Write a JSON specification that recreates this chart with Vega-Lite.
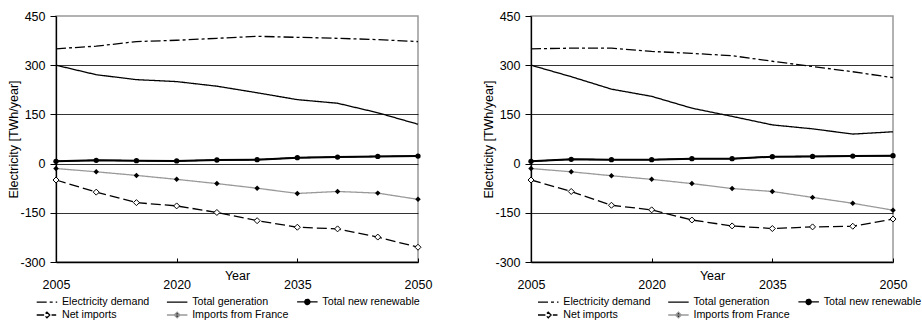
{
  "$schema": "https://vega.github.io/schema/vega-lite/v6.json",
  "padding": {"left": 7, "top": 9, "right": 0, "bottom": 0},
  "spacing": 113,
  "bounds": "flush",
  "datasets": {
    "left": [
      {"series": "Electricity demand", "year": 2005, "value": 350},
      {"series": "Electricity demand", "year": 2010, "value": 358},
      {"series": "Electricity demand", "year": 2015, "value": 372},
      {"series": "Electricity demand", "year": 2020, "value": 376},
      {"series": "Electricity demand", "year": 2025, "value": 382},
      {"series": "Electricity demand", "year": 2030, "value": 388},
      {"series": "Electricity demand", "year": 2035, "value": 385},
      {"series": "Electricity demand", "year": 2040, "value": 382},
      {"series": "Electricity demand", "year": 2045, "value": 378},
      {"series": "Electricity demand", "year": 2050, "value": 372},
      {"series": "Total generation", "year": 2005, "value": 300},
      {"series": "Total generation", "year": 2010, "value": 271},
      {"series": "Total generation", "year": 2015, "value": 256},
      {"series": "Total generation", "year": 2020, "value": 250},
      {"series": "Total generation", "year": 2025, "value": 236},
      {"series": "Total generation", "year": 2030, "value": 216},
      {"series": "Total generation", "year": 2035, "value": 195},
      {"series": "Total generation", "year": 2040, "value": 184},
      {"series": "Total generation", "year": 2045, "value": 155},
      {"series": "Total generation", "year": 2050, "value": 120},
      {"series": "Total new renewable", "year": 2005, "value": 7},
      {"series": "Total new renewable", "year": 2010, "value": 10},
      {"series": "Total new renewable", "year": 2015, "value": 9},
      {"series": "Total new renewable", "year": 2020, "value": 8},
      {"series": "Total new renewable", "year": 2025, "value": 11},
      {"series": "Total new renewable", "year": 2030, "value": 12},
      {"series": "Total new renewable", "year": 2035, "value": 18},
      {"series": "Total new renewable", "year": 2040, "value": 20},
      {"series": "Total new renewable", "year": 2045, "value": 22},
      {"series": "Total new renewable", "year": 2050, "value": 23},
      {"series": "Net imports", "year": 2005, "value": -50},
      {"series": "Net imports", "year": 2010, "value": -87},
      {"series": "Net imports", "year": 2015, "value": -119},
      {"series": "Net imports", "year": 2020, "value": -129},
      {"series": "Net imports", "year": 2025, "value": -149},
      {"series": "Net imports", "year": 2030, "value": -174},
      {"series": "Net imports", "year": 2035, "value": -194},
      {"series": "Net imports", "year": 2040, "value": -199},
      {"series": "Net imports", "year": 2045, "value": -224},
      {"series": "Net imports", "year": 2050, "value": -255},
      {"series": "Imports from France", "year": 2005, "value": -15},
      {"series": "Imports from France", "year": 2010, "value": -25},
      {"series": "Imports from France", "year": 2015, "value": -36},
      {"series": "Imports from France", "year": 2020, "value": -48},
      {"series": "Imports from France", "year": 2025, "value": -61},
      {"series": "Imports from France", "year": 2030, "value": -75},
      {"series": "Imports from France", "year": 2035, "value": -91},
      {"series": "Imports from France", "year": 2040, "value": -85},
      {"series": "Imports from France", "year": 2045, "value": -90},
      {"series": "Imports from France", "year": 2050, "value": -109}
    ],
    "right": [
      {"series": "Electricity demand", "year": 2005, "value": 350},
      {"series": "Electricity demand", "year": 2010, "value": 352},
      {"series": "Electricity demand", "year": 2015, "value": 352},
      {"series": "Electricity demand", "year": 2020, "value": 342},
      {"series": "Electricity demand", "year": 2025, "value": 336},
      {"series": "Electricity demand", "year": 2030, "value": 329},
      {"series": "Electricity demand", "year": 2035, "value": 312},
      {"series": "Electricity demand", "year": 2040, "value": 296},
      {"series": "Electricity demand", "year": 2045, "value": 280},
      {"series": "Electricity demand", "year": 2050, "value": 262},
      {"series": "Total generation", "year": 2005, "value": 300},
      {"series": "Total generation", "year": 2010, "value": 265},
      {"series": "Total generation", "year": 2015, "value": 227},
      {"series": "Total generation", "year": 2020, "value": 205},
      {"series": "Total generation", "year": 2025, "value": 169},
      {"series": "Total generation", "year": 2030, "value": 144},
      {"series": "Total generation", "year": 2035, "value": 118},
      {"series": "Total generation", "year": 2040, "value": 106},
      {"series": "Total generation", "year": 2045, "value": 90},
      {"series": "Total generation", "year": 2050, "value": 97},
      {"series": "Total new renewable", "year": 2005, "value": 7},
      {"series": "Total new renewable", "year": 2010, "value": 13},
      {"series": "Total new renewable", "year": 2015, "value": 12},
      {"series": "Total new renewable", "year": 2020, "value": 12},
      {"series": "Total new renewable", "year": 2025, "value": 15},
      {"series": "Total new renewable", "year": 2030, "value": 15},
      {"series": "Total new renewable", "year": 2035, "value": 21},
      {"series": "Total new renewable", "year": 2040, "value": 22},
      {"series": "Total new renewable", "year": 2045, "value": 23},
      {"series": "Total new renewable", "year": 2050, "value": 24},
      {"series": "Net imports", "year": 2005, "value": -50},
      {"series": "Net imports", "year": 2010, "value": -85},
      {"series": "Net imports", "year": 2015, "value": -127},
      {"series": "Net imports", "year": 2020, "value": -141},
      {"series": "Net imports", "year": 2025, "value": -172},
      {"series": "Net imports", "year": 2030, "value": -190},
      {"series": "Net imports", "year": 2035, "value": -198},
      {"series": "Net imports", "year": 2040, "value": -193},
      {"series": "Net imports", "year": 2045, "value": -191},
      {"series": "Net imports", "year": 2050, "value": -169},
      {"series": "Imports from France", "year": 2005, "value": -15},
      {"series": "Imports from France", "year": 2010, "value": -25},
      {"series": "Imports from France", "year": 2015, "value": -37},
      {"series": "Imports from France", "year": 2020, "value": -48},
      {"series": "Imports from France", "year": 2025, "value": -61},
      {"series": "Imports from France", "year": 2030, "value": -76},
      {"series": "Imports from France", "year": 2035, "value": -85},
      {"series": "Imports from France", "year": 2040, "value": -103},
      {"series": "Imports from France", "year": 2045, "value": -121},
      {"series": "Imports from France", "year": 2050, "value": -142}
    ]
  },
  "hconcat": [
    {
      "width": 362,
      "height": 246,
      "data": {"name": "left"},
      "encoding": {
        "x": {"field": "year", "type": "quantitative", "scale": {"domain": [2005, 2050], "nice": false, "zero": false},
          "axis": {"values": [2005, 2020, 2035, 2050], "labelExpr": "'' + datum.value", "title": "Year", "labelFlush": false, "grid": false, "tickSize": -4, "labelPadding": 20.6, "titleY": 17, "titleBaseline": "alphabetic"}},
        "y": {"field": "value", "type": "quantitative", "scale": {"domain": [-300, 450], "nice": false, "zero": false},
          "axis": {"values": [-300, -150, 0, 150, 300, 450], "labelExpr": "'' + datum.value", "title": "Electricity [TWh/year]", "tickSize": 6, "labelPadding": 5, "grid": true, "gridOpacity": {"condition": {"test": "datum.value == 450 || datum.value == -300", "value": 0}, "value": 1}, "titlePadding": -1}}
      },
      "layer": [
        {
          "mark": {"type": "line", "strokeWidth": 1.3},
          "encoding": {
            "stroke": {"field": "series", "type": "nominal", "legend": {"title": null, "orient": "none", "direction": "horizontal", "legendX": -19.3, "legendY": 279.5}, "scale": {"domain": ["Electricity demand", "Total generation", "Total new renewable", "Net imports", "Imports from France"], "range": ["#000000", "#000000", "#000000", "#000000", "#999999"]}},
            "strokeDash": {"field": "series", "type": "nominal", "legend": {"title": null, "orient": "none", "direction": "horizontal", "legendX": -19.3, "legendY": 279.5}, "scale": {"domain": ["Electricity demand", "Total generation", "Total new renewable", "Net imports", "Imports from France"], "range": [[10, 3, 3, 3], [1, 0], [1, 0], [10, 4], [1, 0]]}}
          }
        },
        {
          "transform": [{"filter": {"field": "series", "equal": "Total new renewable"}}],
          "mark": {"type": "line", "strokeWidth": 2, "color": "#000000"},
          "encoding": {}
        },
        {
          "transform": [{"filter": {"field": "series", "equal": "Total new renewable"}}],
          "mark": {"type": "point", "shape": "circle", "filled": true, "color": "#000000", "size": 28, "opacity": 1}
        },
        {
          "transform": [{"filter": {"field": "series", "equal": "Imports from France"}}],
          "mark": {"type": "point", "shape": "diamond", "filled": true, "color": "#000000", "size": 30, "opacity": 1}
        },
        {
          "transform": [{"filter": {"field": "series", "equal": "Net imports"}}],
          "mark": {"type": "point", "shape": "diamond", "filled": true, "fill": "#ffffff", "stroke": "#000000", "strokeWidth": 1, "size": 36, "opacity": 1}
        },
        {
          "transform": [{"filter": "false"}],
          "mark": {"type": "point", "filled": true},
          "encoding": {
            "stroke": {"field": "series", "type": "nominal", "legend": {"title": null, "orient": "none", "direction": "horizontal", "legendX": -19.3, "legendY": 279.5}, "scale": {"domain": ["Electricity demand", "Total generation", "Total new renewable", "Net imports", "Imports from France"], "range": ["#000000", "#000000", "#000000", "#000000", "#999999"]}},
            "strokeDash": {"field": "series", "type": "nominal", "legend": {"title": null, "orient": "none", "direction": "horizontal", "legendX": -19.3, "legendY": 279.5}, "scale": {"domain": ["Electricity demand", "Total generation", "Total new renewable", "Net imports", "Imports from France"], "range": [[10, 3, 3, 3], [1, 0], [1, 0], [10, 4], [1, 0]]}},
            "shape": {"field": "series", "type": "nominal", "legend": {"title": null, "orient": "none", "direction": "horizontal", "legendX": -19.3, "legendY": 279.5}, "scale": {"domain": ["Electricity demand", "Total generation", "Total new renewable", "Net imports", "Imports from France"], "range": ["M-2,0H2", "M-2,0H2", "M-2,0H2M-0.5,0A0.5,0.5,0,1,0,0.5,0A0.5,0.5,0,1,0,-0.5,0Z", "M-2,0H-0.55M0,-0.55L0.55,0L0,0.55L-0.55,0ZM0.9,0H1.8", "M-2,0H2M0,-0.55L0.55,0L0,0.55L-0.55,0Z"]}},
            "fill": {"field": "series", "type": "nominal", "legend": {"title": null, "orient": "none", "direction": "horizontal", "legendX": -19.3, "legendY": 279.5}, "scale": {"domain": ["Electricity demand", "Total generation", "Total new renewable", "Net imports", "Imports from France"], "range": ["transparent", "transparent", "#000000", "#ffffff", "#000000"]}}
          }
        }
      ]
    },
    {
      "width": 362,
      "height": 246,
      "data": {"name": "right"},
      "encoding": {
        "x": {"field": "year", "type": "quantitative", "scale": {"domain": [2005, 2050], "nice": false, "zero": false},
          "axis": {"values": [2005, 2020, 2035, 2050], "labelExpr": "'' + datum.value", "title": "Year", "labelFlush": false, "grid": false, "tickSize": -4, "labelPadding": 20.6, "titleY": 17, "titleBaseline": "alphabetic"}},
        "y": {"field": "value", "type": "quantitative", "scale": {"domain": [-300, 450], "nice": false, "zero": false},
          "axis": {"values": [-300, -150, 0, 150, 300, 450], "labelExpr": "'' + datum.value", "title": "Electricity [TWh/year]", "tickSize": 6, "labelPadding": 5, "grid": true, "gridOpacity": {"condition": {"test": "datum.value == 450 || datum.value == -300", "value": 0}, "value": 1}, "titlePadding": -1}}
      },
      "layer": [
        {
          "mark": {"type": "line", "strokeWidth": 1.3},
          "encoding": {
            "stroke": {"field": "series", "type": "nominal", "legend": {"title": null, "orient": "none", "direction": "horizontal", "legendX": 7, "legendY": 279.5}, "scale": {"domain": ["Electricity demand", "Total generation", "Total new renewable", "Net imports", "Imports from France"], "range": ["#000000", "#000000", "#000000", "#000000", "#999999"]}},
            "strokeDash": {"field": "series", "type": "nominal", "legend": {"title": null, "orient": "none", "direction": "horizontal", "legendX": 7, "legendY": 279.5}, "scale": {"domain": ["Electricity demand", "Total generation", "Total new renewable", "Net imports", "Imports from France"], "range": [[10, 3, 3, 3], [1, 0], [1, 0], [10, 4], [1, 0]]}}
          }
        },
        {
          "transform": [{"filter": {"field": "series", "equal": "Total new renewable"}}],
          "mark": {"type": "line", "strokeWidth": 2, "color": "#000000"},
          "encoding": {}
        },
        {
          "transform": [{"filter": {"field": "series", "equal": "Total new renewable"}}],
          "mark": {"type": "point", "shape": "circle", "filled": true, "color": "#000000", "size": 28, "opacity": 1}
        },
        {
          "transform": [{"filter": {"field": "series", "equal": "Imports from France"}}],
          "mark": {"type": "point", "shape": "diamond", "filled": true, "color": "#000000", "size": 30, "opacity": 1}
        },
        {
          "transform": [{"filter": {"field": "series", "equal": "Net imports"}}],
          "mark": {"type": "point", "shape": "diamond", "filled": true, "fill": "#ffffff", "stroke": "#000000", "strokeWidth": 1, "size": 36, "opacity": 1}
        },
        {
          "transform": [{"filter": "false"}],
          "mark": {"type": "point", "filled": true},
          "encoding": {
            "stroke": {"field": "series", "type": "nominal", "legend": {"title": null, "orient": "none", "direction": "horizontal", "legendX": 7, "legendY": 279.5}, "scale": {"domain": ["Electricity demand", "Total generation", "Total new renewable", "Net imports", "Imports from France"], "range": ["#000000", "#000000", "#000000", "#000000", "#999999"]}},
            "strokeDash": {"field": "series", "type": "nominal", "legend": {"title": null, "orient": "none", "direction": "horizontal", "legendX": 7, "legendY": 279.5}, "scale": {"domain": ["Electricity demand", "Total generation", "Total new renewable", "Net imports", "Imports from France"], "range": [[10, 3, 3, 3], [1, 0], [1, 0], [10, 4], [1, 0]]}},
            "shape": {"field": "series", "type": "nominal", "legend": {"title": null, "orient": "none", "direction": "horizontal", "legendX": 7, "legendY": 279.5}, "scale": {"domain": ["Electricity demand", "Total generation", "Total new renewable", "Net imports", "Imports from France"], "range": ["M-2,0H2", "M-2,0H2", "M-2,0H2M-0.5,0A0.5,0.5,0,1,0,0.5,0A0.5,0.5,0,1,0,-0.5,0Z", "M-2,0H-0.55M0,-0.55L0.55,0L0,0.55L-0.55,0ZM0.9,0H1.8", "M-2,0H2M0,-0.55L0.55,0L0,0.55L-0.55,0Z"]}},
            "fill": {"field": "series", "type": "nominal", "legend": {"title": null, "orient": "none", "direction": "horizontal", "legendX": 7, "legendY": 279.5}, "scale": {"domain": ["Electricity demand", "Total generation", "Total new renewable", "Net imports", "Imports from France"], "range": ["transparent", "transparent", "#000000", "#ffffff", "#000000"]}}
          }
        }
      ]
    }
  ],
  "resolve": {
    "scale": {"stroke": "independent", "strokeDash": "independent", "shape": "independent", "fill": "independent"},
    "legend": {"stroke": "independent", "strokeDash": "independent", "shape": "independent", "fill": "independent"}
  },
  "config": {
    "font": "Liberation Sans",
    "view": {"stroke": "#999999", "strokeWidth": 1.5},
    "axis": {"domainColor": "#000000", "domainWidth": 1.3, "tickColor": "#000000", "tickWidth": 1, "labelColor": "#000000", "labelFontSize": 12.5, "titleColor": "#000000", "titleFontSize": 12.5, "titleFontWeight": "normal", "gridColor": "#000000", "gridWidth": 0.8},
    "legend": {"columns": 3, "gridAlign": "all", "symbolSize": 105, "symbolOffset": 4.25, "labelOffset": 9, "columnPadding": 4.2, "rowPadding": 1.5, "labelFontSize": 10.7, "labelColor": "#000000", "symbolFillColor": "#ffffff", "symbolStrokeWidth": 1.3, "symbolOpacity": 1, "padding": 0}
  }
}
